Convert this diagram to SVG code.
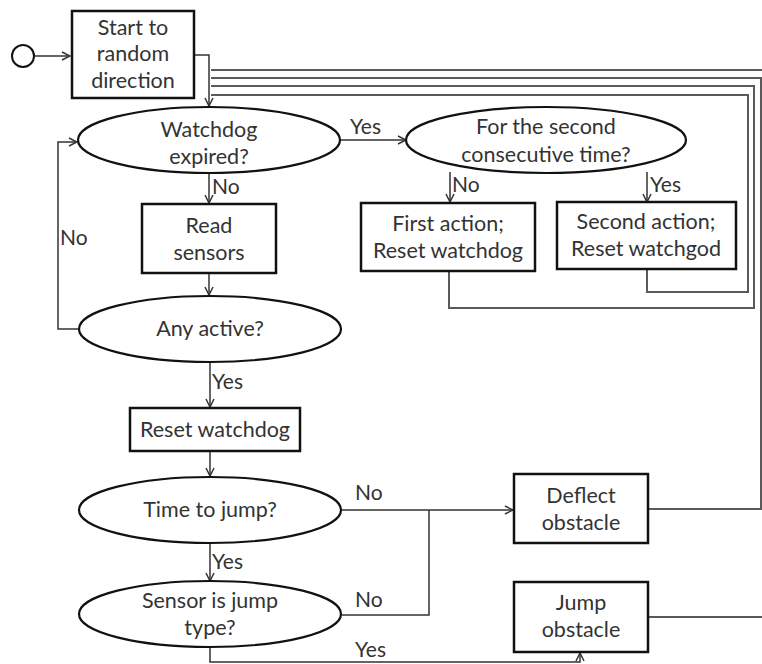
<svg xmlns="http://www.w3.org/2000/svg" width="762" height="664" viewBox="0 0 762 664">
<style>
.box{fill:#fff;stroke:#111;stroke-width:2.5}
.dec{fill:#fff;stroke:#111;stroke-width:2.2}
.t{font-family:Lato,"Open Sans","Liberation Sans",sans-serif;font-size:21.5px;fill:#333;text-anchor:middle}
.l{font-family:Lato,"Open Sans","Liberation Sans",sans-serif;font-size:21px;fill:#333}
.c{fill:none;stroke:#333;stroke-width:1.5}
.r{fill:none;stroke:#5a5a5a;stroke-width:2}
</style>
<defs>
<marker id="a" markerWidth="10" markerHeight="10" refX="9" refY="5" orient="auto" markerUnits="userSpaceOnUse">
<path d="M1,1 L9,5 L1,9" fill="none" stroke="#333" stroke-width="1.5"/>
</marker>
</defs>
<rect width="762" height="664" fill="#fff"/>
<g id="connectors">
<path class="c" d="M35,56 H70" marker-end="url(#a)"/>
<path class="c" d="M194,55 H209 V106" marker-end="url(#a)"/>
<path class="c" d="M340,140 H406" marker-end="url(#a)"/>
<path class="c" d="M450,172 V202" marker-end="url(#a)"/>
<path class="c" d="M647,172 V202" marker-end="url(#a)"/>
<path class="c" d="M209,173 V203" marker-end="url(#a)"/>
<path class="c" d="M209,273 V295" marker-end="url(#a)"/>
<path class="c" d="M79,329 H58 V142 H77" marker-end="url(#a)"/>
<path class="c" d="M210,362 V407" marker-end="url(#a)"/>
<path class="c" d="M210,451 V476" marker-end="url(#a)"/>
<path class="c" d="M210,543 V581" marker-end="url(#a)"/>
<path class="c" d="M342,510 H513" marker-end="url(#a)"/>
<path class="c" d="M342,615 H429 V510"/>
<path class="c" d="M210,647 V662 H580 V653" marker-end="url(#a)"/>
<path class="r" d="M647,269 V292 H748 V95 H211"/>
<path class="r" d="M449,271 V308 H754 V86 H211"/>
<path class="r" d="M648,509 H761 V78 H211"/>
<path class="r" d="M648,617 H766 V70 H211"/>
</g>
<g id="start"><circle cx="23" cy="56" r="11" fill="#fff" stroke="#111" stroke-width="2"/></g>
<g id="n-start"><rect class="box" x="72" y="11" width="122" height="87"/><text class="t" x="133" y="35">Start to</text><text class="t" x="133" y="61">random</text><text class="t" x="133" y="88">direction</text></g>
<g id="n-watchdog"><ellipse class="dec" cx="209" cy="140" rx="131" ry="33"/><text class="t" x="209" y="137">Watchdog</text><text class="t" x="209" y="164">expired?</text></g>
<g id="n-second"><ellipse class="dec" cx="546" cy="140" rx="140" ry="33"/><text class="t" x="546" y="134">For the second</text><text class="t" x="546" y="162">consecutive time?</text></g>
<g id="n-first"><rect class="box" x="361" y="203" width="174" height="68"/><text class="t" x="448" y="231">First action;</text><text class="t" x="448" y="258">Reset watchdog</text></g>
<g id="n-secondaction"><rect class="box" x="557" y="202" width="179" height="67"/><text class="t" x="646" y="229">Second action;</text><text class="t" x="646" y="256">Reset watchgod</text></g>
<g id="n-read"><rect class="box" x="142" y="204" width="134" height="69"/><text class="t" x="209" y="233">Read</text><text class="t" x="209" y="260">sensors</text></g>
<g id="n-any"><ellipse class="dec" cx="210" cy="329" rx="131" ry="33"/><text class="t" x="210" y="336">Any active?</text></g>
<g id="n-reset"><rect class="box" x="130" y="408" width="170" height="43"/><text class="t" x="215" y="437">Reset watchdog</text></g>
<g id="n-time"><ellipse class="dec" cx="210" cy="510" rx="131" ry="33"/><text class="t" x="210" y="517">Time to jump?</text></g>
<g id="n-sensor"><ellipse class="dec" cx="210" cy="614" rx="131" ry="33"/><text class="t" x="210" y="608">Sensor is jump</text><text class="t" x="210" y="635">type?</text></g>
<g id="n-deflect"><rect class="box" x="514" y="474" width="134" height="69"/><text class="t" x="581" y="503">Deflect</text><text class="t" x="581" y="530">obstacle</text></g>
<g id="n-jump"><rect class="box" x="514" y="582" width="134" height="70"/><text class="t" x="581" y="610">Jump</text><text class="t" x="581" y="637">obstacle</text></g>
<g id="labels">
<text class="l" x="350" y="134">Yes</text>
<text class="l" x="452" y="192">No</text>
<text class="l" x="650" y="192">Yes</text>
<text class="l" x="212" y="194">No</text>
<text class="l" x="60" y="245">No</text>
<text class="l" x="212" y="389">Yes</text>
<text class="l" x="355" y="500">No</text>
<text class="l" x="212" y="569">Yes</text>
<text class="l" x="355" y="607">No</text>
<text class="l" x="355" y="657">Yes</text>
</g>
</svg>
